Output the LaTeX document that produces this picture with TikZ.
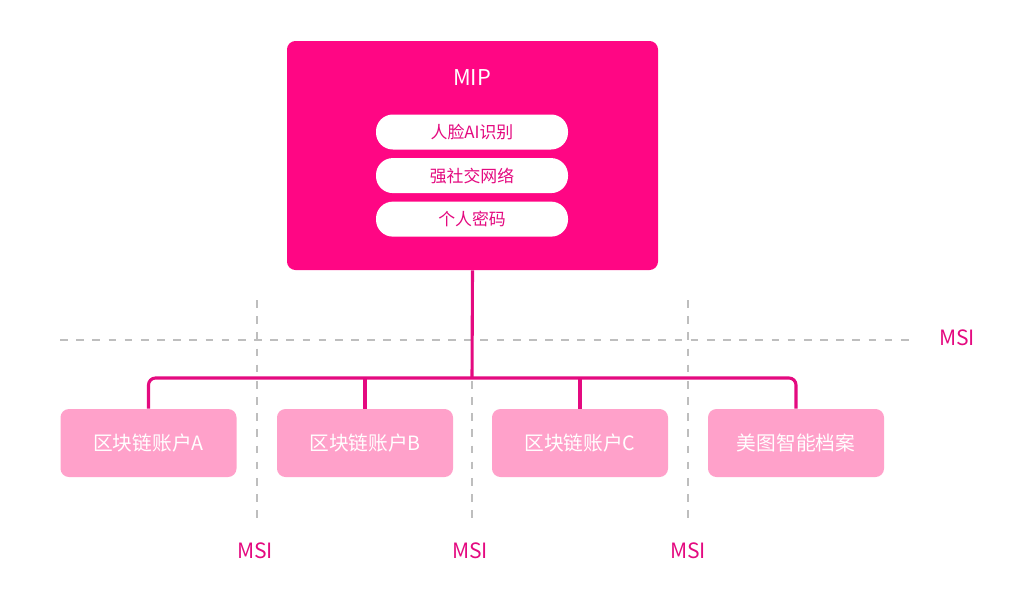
\documentclass[tikz,border=0pt]{standalone}
\usepackage{fontspec}
\setmainfont{Noto Sans CJK SC}
\usetikzlibrary{positioning}
\definecolor{mipred}{RGB}{255,6,132}
\definecolor{acctpink}{RGB}{255,161,202}
\definecolor{linkpink}{RGB}{228,10,128}
\definecolor{guidegray}{RGB}{190,190,190}

\begin{document}
\begin{tikzpicture}[
  x=0.025cm, y=-0.025cm,
  mipbox/.style={rectangle, fill=mipred, rounded corners=6pt,
    minimum width=371*0.025cm, minimum height=229*0.025cm, inner sep=0pt},
  pill/.style={rectangle, fill=white, rounded corners=12pt,
    minimum width=192*0.025cm, minimum height=35*0.025cm,
    text=linkpink, font=\fontsize{12}{14}\selectfont},
  acct/.style={rectangle, fill=acctpink, rounded corners=6pt,
    minimum width=176*0.025cm, minimum height=68*0.025cm,
    text=white, font=\fontsize{14}{16}\selectfont},
  link/.style={draw=linkpink, line width=2.2pt},
  guide/.style={draw=guidegray, line width=1pt, dash pattern=on 5.5pt off 6pt},
  msi/.style={text=linkpink, font=\fontsize{15}{17}\selectfont},
]
\useasboundingbox (0,0) rectangle (1025,601);

% MSI guides
\draw[guide] (60,340) -- (915,340);
\draw[guide] (257,300) -- (257,525);
\draw[guide] (472,300) -- (472,525);
\draw[guide] (688,300) -- (688,525);
\node[msi] (msiR) at (957,338) {MSI};
\node[msi] (msiA) at (255,551) {MSI};
\node[msi] (msiB) at (470,551) {MSI};
\node[msi] (msiC) at (688,551) {MSI};

% MIP block
\node[mipbox] (mip) at (472.5,155.5) {};
\node[text=white, font=\fontsize{15.5}{18}\selectfont] (miptitle) at (472,78) {MIP};
\node[pill] (face) at (472,132) {人脸AI识别};
\node[pill, below=8*0.025cm of face] (social) {强社交网络};
\node[pill, below=8*0.025cm of social] (pwd) {个人密码};

% accounts
\node[acct] (acctA) at (148.5,443) {区块链账户A};
\node[acct] (acctB) at (365,443) {区块链账户B};
\node[acct] (acctC) at (580,443) {区块链账户C};
\node[acct] (acctD) at (796,443) {美图智能档案};

% tree
\coordinate (bus) at (472,378);
\draw[link] (mip.south) -- (bus);
\draw[link, rounded corners=5pt] (acctA.north) -- (acctA.north |- bus) -- (acctD.north |- bus) -- (acctD.north);
\draw[link] (bus -| acctB.north) -- (acctB.north);
\draw[link] (bus -| acctC.north) -- (acctC.north);
\end{tikzpicture}
\end{document}
